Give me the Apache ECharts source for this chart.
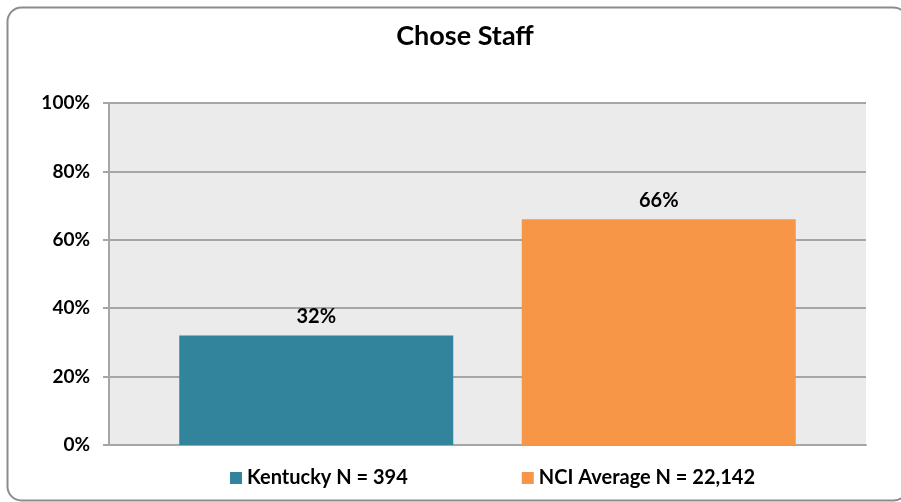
<!DOCTYPE html>
<html>
<head>
<meta charset="utf-8">
<script src="https://cdn.jsdelivr.net/npm/echarts@6/dist/echarts.min.js"></script>
<style>
html,body{margin:0;padding:0;background:#fff;}
#c{width:901px;height:502px;}
</style>
</head>
<body>
<div id="c"></div>
<script>
const categories = ['Chose Staff'];
const seriesNames = ['Kentucky N = 394', 'NCI Average N = 22,142'];
const kentuckyValues = [32];
const nciValues = [66];
const yTicks = [0, 20, 40, 60, 80, 100];

const FONT = 'Lato, "Open Sans", sans-serif';
const chart = echarts.init(document.getElementById('c'));
chart.setOption({
  animation: false,
  backgroundColor: '#fff',
  title: {
    text: 'Chose Staff', left: 460, top: 18, textAlign: 'center',
    textStyle: {fontFamily: FONT, fontSize: 27, fontWeight: 'bold', color: '#000'}
  },
  graphic: [{
    type: 'rect', left: 5, top: 5, silent: true, z: -1,
    shape: {width: 900, height: 493, r: 14},
    style: {fill: 'none', stroke: '#8c8c8c', lineWidth: 2}
  }],
  legend: {
    top: 463, left: 225, itemGap: 114, itemWidth: 12, itemHeight: 12,
    icon: 'rect',
    textStyle: {fontFamily: FONT, fontSize: 20, fontWeight: 'bold', color: '#000'},
    data: seriesNames
  },
  grid: {left: 109, right: 35, top: 103, bottom: 57, backgroundColor: '#ebebeb', show: true, borderWidth: 0},
  xAxis: {
    type: 'category', data: categories,
    axisLine: {show: true, lineStyle: {color: '#a6a6a6', width: 2}},
    axisTick: {show: false}, axisLabel: {show: false}
  },
  yAxis: {
    type: 'value', min: 0, max: 100, interval: 20,
    axisLine: {show: true, lineStyle: {color: '#a6a6a6', width: 2}},
    axisTick: {show: true, length: 6, lineStyle: {color: '#a6a6a6', width: 2}},
    splitLine: {show: true, lineStyle: {color: '#a6a6a6', width: 2}},
    axisLabel: {
      fontFamily: FONT, fontSize: 19, fontWeight: 'bold', color: '#000', margin: 19,
      customValues: yTicks,
      formatter: v => v + '%'
    }
  },
  series: [
    {
      name: seriesNames[0], type: 'bar', data: kentuckyValues, barWidth: 274, barGap: '25%',
      itemStyle: {color: '#31849b'},
      label: {show: true, position: 'top', distance: 9, formatter: p => p.value + '%',
        fontFamily: FONT, fontSize: 20, fontWeight: 'bold', color: '#000'}
    },
    {
      name: seriesNames[1], type: 'bar', data: nciValues, barWidth: 274, barGap: '25%',
      itemStyle: {color: '#f79646'},
      label: {show: true, position: 'top', distance: 9, formatter: p => p.value + '%',
        fontFamily: FONT, fontSize: 20, fontWeight: 'bold', color: '#000'}
    }
  ]
});
</script>
</body>
</html>
